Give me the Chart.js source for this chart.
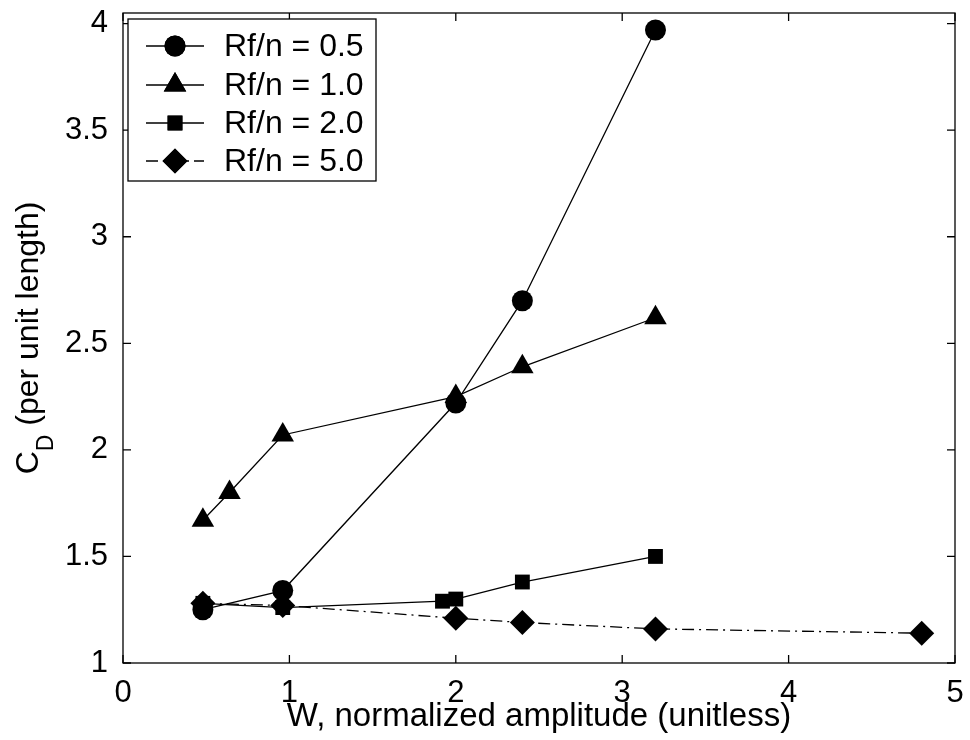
<!DOCTYPE html>
<html>
<head>
<meta charset="utf-8">
<script src="https://cdn.jsdelivr.net/npm/chart.js@4"></script>
<style>
  html, body { margin: 0; padding: 0; background: #fff; }
  #wrap { width: 970px; height: 740px; }
</style>
</head>
<body>
<div id="wrap"><canvas id="cd"></canvas></div>
<script>
// values
const xTicks = [0, 1, 2, 3, 4, 5];
const yTicks = [1, 1.5, 2, 2.5, 3, 3.5, 4];

const w05 = [0.48, 0.96, 2.0, 2.4, 3.2];
const cd05 = [1.25, 1.34, 2.22, 2.70, 3.97];

const w10 = [0.48, 0.64, 0.96, 2.0, 2.4, 3.2];
const cd10 = [1.67, 1.80, 2.07, 2.25, 2.39, 2.62];

const w20 = [0.48, 0.96, 1.92, 2.0, 2.4, 3.2];
const cd20 = [1.28, 1.26, 1.29, 1.30, 1.38, 1.50];

const w50 = [0.48, 0.96, 2.0, 2.4, 3.2, 4.8];
const cd50 = [1.28, 1.27, 1.21, 1.19, 1.16, 1.14];

const seriesNames = ['Rf/n = 0.5', 'Rf/n = 1.0', 'Rf/n = 2.0', 'Rf/n = 5.0'];

const FONT = '"Liberation Sans", Arial, sans-serif';
const dashDot = [12, 5, 2, 5];

function pts(xs, ys) {
    return xs.map((x, i) => ({ x: x, y: ys[i] }));
}

function series(name, xs, ys, style, r, dash) {
    return {
        label: name,
        data: pts(xs, ys),
        borderColor: '#000',
        backgroundColor: '#000',
        borderWidth: 1.3,
        borderDash: dash || [],
        pointStyle: style,
        pointRadius: r,
        pointBorderWidth: 0,
        showLine: true,
        tension: 0
    };
}

// frame, inward ticks, legend and y title
const decor = {
    id: 'decor',
    afterDraw(chart) {
        const c = chart.ctx;
        const a = chart.chartArea;
        const sx = chart.scales.x, sy = chart.scales.y;
        c.save();
        c.strokeStyle = '#000';
        c.lineWidth = 1.3;
        c.strokeRect(a.left, a.top, a.right - a.left, a.bottom - a.top);
        c.beginPath();
        xTicks.forEach(v => {
            const p = sx.getPixelForValue(v);
            c.moveTo(p, a.bottom); c.lineTo(p, a.bottom - 8);
            c.moveTo(p, a.top); c.lineTo(p, a.top + 8);
        });
        yTicks.forEach(v => {
            const p = sy.getPixelForValue(v);
            c.moveTo(a.left, p); c.lineTo(a.left + 8, p);
            c.moveTo(a.right, p); c.lineTo(a.right - 8, p);
        });
        c.stroke();

        // legend box
        const lx = 128, ly = 19, lw = 248, lh = 162;
        c.fillStyle = '#fff';
        c.fillRect(lx, ly, lw, lh);
        c.strokeRect(lx, ly, lw, lh);
        const rowY = [46, 85, 123, 161];
        chart.data.datasets.forEach((ds, i) => {
            const y = rowY[i];
            c.beginPath();
            c.setLineDash(ds.borderDash);
            c.moveTo(146, y); c.lineTo(204, y);
            c.stroke();
            c.setLineDash([]);
            c.fillStyle = '#000';
            Chart.helpers.drawPoint(c, {
                pointStyle: ds.pointStyle, radius: ds.pointRadius, rotation: 0, borderWidth: 0
            }, 175, y);
            c.fill();
            c.font = '32px ' + FONT;
            c.textBaseline = 'middle';
            c.textAlign = 'left';
            c.fillText(ds.label, 224, y + 1);
        });

        // y title with subscript
        c.translate(38, (a.top + a.bottom) / 2);
        c.rotate(-Math.PI / 2);
        c.fillStyle = '#000';
        c.textBaseline = 'alphabetic';
        c.textAlign = 'left';
        const main = ' (per unit length)';
        c.font = '32px ' + FONT;
        const wC = c.measureText('C').width;
        const wM = c.measureText(main).width;
        c.font = '23px ' + FONT;
        const wD = c.measureText('D').width;
        const x0 = -(wC + wD + wM) / 2;
        c.font = '32px ' + FONT;
        c.fillText('C', x0, 0);
        c.fillText(main, x0 + wC + wD, 0);
        c.font = '23px ' + FONT;
        c.fillText('D', x0 + wC, 15);
        c.restore();
    }
};

new Chart(document.getElementById('cd'), {
    type: 'scatter',
    data: {
        datasets: [
            series(seriesNames[0], w05, cd05, 'circle', 10.5),
            series(seriesNames[1], w10, cd10, 'triangle', 13),
            series(seriesNames[2], w20, cd20, 'rect', 10.5),
            series(seriesNames[3], w50, cd50, 'rectRot', 12.5, dashDot)
        ]
    },
    options: {
        responsive: true,
        maintainAspectRatio: false,
        animation: false,
        layout: { padding: { top: 12, right: 15, left: 0, bottom: 0 } },
        plugins: {
            legend: { display: false },
            tooltip: { enabled: false }
        },
        scales: {
            x: {
                type: 'linear',
                min: 0,
                max: 5,
                grid: { display: false },
                border: { display: false },
                afterBuildTicks: s => { s.ticks = xTicks.map(v => ({ value: v })); },
                afterFit: s => { s.height = 77; s.paddingLeft = 0; s.paddingRight = 0; },
                ticks: {
                    color: '#000',
                    font: { family: FONT, size: 31 },
                    padding: 4,
                    maxRotation: 0,
                    callback: v => String(v)
                },
                title: {
                    display: true,
                    text: 'W, normalized amplitude (unitless)',
                    color: '#000',
                    font: { family: FONT, size: 33 },
                    padding: { top: 0, bottom: 3 }
                }
            },
            y: {
                type: 'linear',
                min: 1,
                max: 4.05,
                grid: { display: false },
                border: { display: false },
                afterBuildTicks: s => { s.ticks = yTicks.map(v => ({ value: v })); },
                afterFit: s => { s.width = 123; s.paddingTop = 0; s.paddingBottom = 0; },
                ticks: {
                    color: '#000',
                    font: { family: FONT, size: 31 },
                    padding: 7,
                    callback: v => String(v)
                }
            }
        }
    },
    plugins: [decor]
});
</script>
</body>
</html>
